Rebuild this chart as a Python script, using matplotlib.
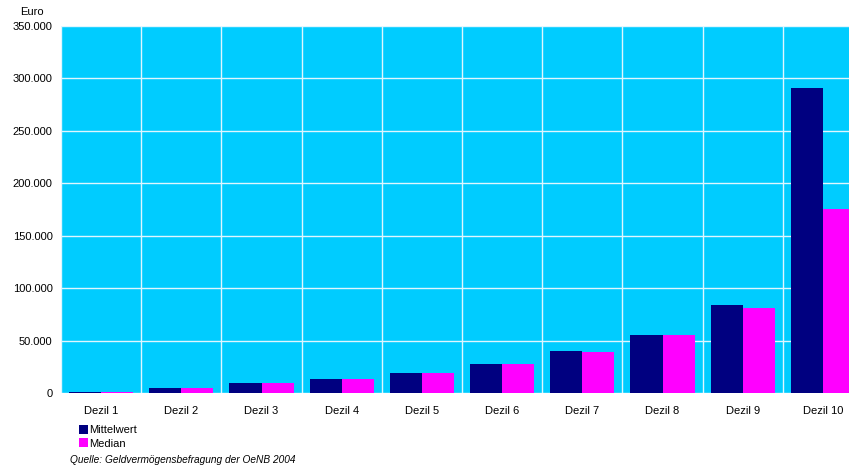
import numpy as np
import matplotlib.pyplot as plt

# Geldvermögen nach Dezilen (Euro)
kategorien = ["Dezil 1", "Dezil 2", "Dezil 3", "Dezil 4", "Dezil 5",
              "Dezil 6", "Dezil 7", "Dezil 8", "Dezil 9", "Dezil 10"]
mittelwert = [800, 5000, 9200, 13700, 19400, 28000, 40400, 55700, 83500, 290700]
median = [700, 5000, 9200, 13700, 19400, 28000, 39500, 55700, 81500, 175000]
y_ticks = [0, 50000, 100000, 150000, 200000, 250000, 300000, 350000]
y_labels = ["0", "50.000", "100.000", "150.000", "200.000", "250.000", "300.000", "350.000"]

plt.rcParams['font.family'] = ['Liberation Sans', 'DejaVu Sans']

fig = plt.figure(figsize=(8.49, 4.68), dpi=100)
ax = fig.add_axes([61/849, 1-393/468, 802/849, 367/468])
ax.set_facecolor("#00CCFF")

x = np.arange(len(kategorien))
b = 0.4
ax.bar(x - b/2, mittelwert, b, color="#000080", label="Mittelwert", zorder=3)
ax.bar(x + b/2, median, b, color="#FF00FF", label="Median", zorder=3)

ax.set_xlim(-0.5, len(kategorien) - 0.5)
ax.set_ylim(0, 350000)
ax.set_yticks(y_ticks)
ax.set_yticklabels(y_labels, fontsize=8)
ax.set_xticks(x)
ax.set_xticklabels(kategorien, fontsize=8)
ax.set_xticks(np.arange(len(kategorien) + 1) - 0.5, minor=True)
ax.tick_params(axis="both", which="both", length=0)
ax.tick_params(axis="x", pad=9)
ax.tick_params(axis="y", pad=6)
ax.grid(axis="y", which="major", color="#dff6ff", lw=1, zorder=1)
ax.grid(axis="x", which="minor", color="#dff6ff", lw=1, zorder=1)
for s in ax.spines.values():
    s.set_visible(False)

fig.text(20/849, 1-12/468, "Euro", fontsize=8, va="center")
leg = fig.legend(loc="upper left", bbox_to_anchor=(79/849, 1-425/468), frameon=False,
                 fontsize=8, handlelength=0.8, handleheight=0.8, handletextpad=0.15,
                 labelspacing=0.3, borderpad=0, borderaxespad=0)
fig.text(70/849, 1-460/468, "Quelle: Geldvermögensbefragung der OeNB 2004",
         fontsize=7.3, style="italic", va="center")

fig.savefig("out.png", dpi=100)
